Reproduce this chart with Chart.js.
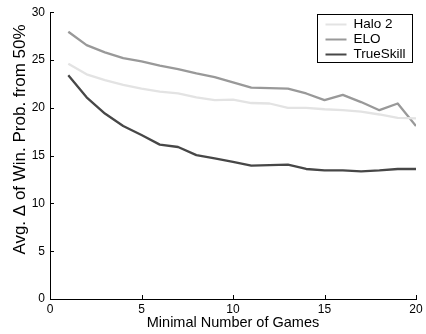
<!DOCTYPE html>
<html>
<head>
<meta charset="utf-8">
<script src="https://cdn.jsdelivr.net/npm/chart.js@4/dist/chart.umd.min.js"></script>
<style>
  html, body { margin: 0; padding: 0; background: #fff; }
  #wrap { width: 426px; height: 334px; }
</style>
</head>
<body>
<div id="wrap"><canvas id="c" width="426" height="334"></canvas></div>
<script>
// Minimal number of games played before a match is counted
const games = [1,2,3,4,5,6,7,8,9,10,11,12,13,14,15,16,17,18,19,20];

// Average deviation of predicted win probability from 50%
const halo2 = [24.6,23.5,22.9,22.4,22.0,21.7,21.5,21.1,20.8,20.85,20.5,20.45,20.0,20.0,19.85,19.75,19.6,19.3,18.95,18.9];
const elo = [27.95,26.55,25.8,25.2,24.85,24.4,24.05,23.6,23.2,22.65,22.1,22.05,22.0,21.5,20.8,21.35,20.6,19.75,20.45,18.1];
const trueSkill = [23.4,21.1,19.4,18.1,17.15,16.15,15.9,15.05,14.7,14.35,13.95,14.0,14.05,13.6,13.45,13.45,13.35,13.45,13.6,13.6];

const xTicks = [0,5,10,15,20];
const yTicks = [0,5,10,15,20,25,30];

const yTitle = 'Avg. Δ of Win. Prob. from 50%';

const FONT = '"Liberation Sans", Arial, Helvetica, sans-serif';

// Small tick marks drawn inward from the left and bottom axes
const inwardTicks = {
  id: 'inwardTicks',
  afterDatasetsDraw(chart) {
    const { ctx, chartArea, scales } = chart;
    ctx.save();
    ctx.strokeStyle = '#000';
    ctx.lineWidth = 1;
    ctx.beginPath();
    xTicks.forEach(v => {
      const px = Math.round(scales.x.getPixelForValue(v)) + 0.5;
      ctx.moveTo(px, chartArea.bottom);
      ctx.lineTo(px, chartArea.bottom - 4);
    });
    yTicks.forEach(v => {
      const py = Math.round(scales.y.getPixelForValue(v)) + 0.5;
      ctx.moveTo(chartArea.left, py);
      ctx.lineTo(chartArea.left + 4, py);
    });
    ctx.stroke();
    ctx.restore();
  }
};

// Rotated y-axis title, set a little above the axis midpoint
const yAxisTitle = {
  id: 'yAxisTitle',
  afterDraw(chart) {
    const { ctx } = chart;
    ctx.save();
    ctx.translate(20, 139.5);
    ctx.rotate(-Math.PI / 2);
    ctx.font = '17px ' + FONT;
    ctx.fillStyle = '#000';
    ctx.textAlign = 'center';
    ctx.textBaseline = 'middle';
    ctx.fillText(yTitle, 0, 0);
    ctx.restore();
  }
};

// Boxed legend in the upper right corner of the plot
const boxedLegend = {
  id: 'boxedLegend',
  afterDraw(chart) {
    const { ctx } = chart;
    const x0 = 317.5, y0 = 14.5, w = 95, h = 48;
    ctx.save();
    ctx.fillStyle = '#fff';
    ctx.fillRect(x0, y0, w, h);
    ctx.strokeStyle = '#000';
    ctx.lineWidth = 1;
    ctx.strokeRect(x0, y0, w, h);
    ctx.font = '13.5px ' + FONT;
    ctx.textBaseline = 'middle';
    ctx.textAlign = 'left';
    chart.data.datasets.forEach((ds, i) => {
      const y = y0 + 10 + i * 15;
      ctx.strokeStyle = ds.borderColor;
      ctx.lineWidth = 2;
      ctx.beginPath();
      ctx.moveTo(x0 + 8, y);
      ctx.lineTo(x0 + 29, y);
      ctx.stroke();
      ctx.fillStyle = '#000';
      ctx.fillText(ds.label, x0 + 36, y);
    });
    ctx.restore();
  }
};

new Chart(document.getElementById('c'), {
  type: 'line',
  data: {
    datasets: [
      { label: 'Halo 2', data: games.map((g, i) => ({ x: g, y: halo2[i] })), borderColor: '#e3e3e3' },
      { label: 'ELO', data: games.map((g, i) => ({ x: g, y: elo[i] })), borderColor: '#999999' },
      { label: 'TrueSkill', data: games.map((g, i) => ({ x: g, y: trueSkill[i] })), borderColor: '#474747' }
    ]
  },
  options: {
    responsive: false,
    animation: false,
    devicePixelRatio: 1,
    layout: { padding: { left: 0, right: 10, top: 11, bottom: 0 } },
    elements: {
      line: { borderWidth: 2.3, tension: 0, borderJoinStyle: 'round', borderCapStyle: 'butt' },
      point: { radius: 0 }
    },
    plugins: {
      legend: { display: false },
      tooltip: { enabled: false }
    },
    scales: {
      x: {
        type: 'linear',
        min: 0, max: 20,
        afterFit(scale) { scale.height = 35; },
        afterBuildTicks(scale) { scale.ticks = xTicks.map(v => ({ value: v })); },
        grid: { display: false, drawTicks: false },
        border: { display: true, color: '#000', width: 1 },
        ticks: { padding: 3, color: '#000', font: { family: FONT, size: 12 }, maxRotation: 0 },
        title: { display: true, text: 'Minimal Number of Games', color: '#000', font: { family: FONT, size: 14.5 }, padding: { top: 0, bottom: 2 } }
      },
      y: {
        type: 'linear',
        min: 0, max: 30,
        afterFit(scale) { scale.width = 50; },
        afterBuildTicks(scale) { scale.ticks = yTicks.map(v => ({ value: v })); },
        grid: { display: false, drawTicks: false },
        border: { display: true, color: '#000', width: 1 },
        ticks: { padding: 5, color: '#000', font: { family: FONT, size: 12 } }
      }
    }
  },
  plugins: [inwardTicks, yAxisTitle, boxedLegend]
});
</script>
</body>
</html>
